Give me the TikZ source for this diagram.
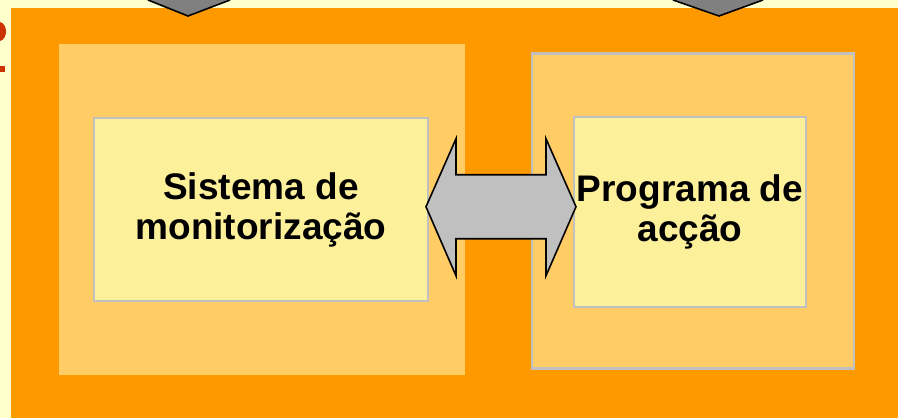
\documentclass[tikz,border=0pt]{standalone}
\usepackage{fontspec}
\setmainfont{Liberation Sans}
\usepackage{xcolor}
\usepackage{tikz}
\usetikzlibrary{calc}

\definecolor{paper}{HTML}{FFFFCC}
\definecolor{frameorange}{HTML}{FF9900}
\definecolor{paleorange}{HTML}{FFCC66}
\definecolor{paleyellow}{HTML}{FCF09A}
\definecolor{rimgray}{HTML}{C0C0C0}
\definecolor{arrowgray}{HTML}{808080}
\definecolor{fragred}{HTML}{CC3300}

\tikzset{
  outerbox/.style={fill=paleorange, inner sep=0pt, outer sep=0pt},
  innerbox/.style={fill=paleyellow, draw=rimgray, line width=2.5pt, inner sep=2pt, outer sep=0pt,
    align=center, font=\bfseries\fontsize{37}{40}\selectfont},
  linkarrow/.style={fill=rimgray, draw=black, line width=1.6pt, line join=miter},
  feedarrow/.style={fill=arrowgray},
}

\begin{document}
\begin{tikzpicture}[x=1pt, y=-1pt]
    \useasboundingbox (0,0) rectangle (898,418);
    \fill[paper] (0,0) rectangle (898,418);
    \fill[frameorange] (11,8) rectangle (898,418);

    % cut-off title fragments at the left edge
    \fill[fragred] (0,22) .. controls (8,24) and (8,39) .. (0,41) -- cycle;
    \fill[fragred] (0,66) rectangle (5,72);

    % incoming arrows, cut by the top edge
    \fill[feedarrow] (148,0) -- (188,16) -- (230,0) -- cycle;
    \draw[line width=1.6pt] (148,0) -- (188,16) -- (230,0);
    \fill[feedarrow] (673,0) -- (719,16) -- (763,0) -- cycle;
    \draw[line width=1.6pt] (673,0) -- (719,16) -- (763,0);

    % left block
    \node[outerbox, minimum width=406pt, minimum height=331pt] (leftblock) at (262,209.5) {};
    \node[innerbox, minimum width=334pt, minimum height=183pt] (monitor) at (261,209.5)
        {Sistema de\\monitorização};

    % right block
    \node[outerbox, draw=rimgray, line width=2.5pt, minimum width=322pt, minimum height=315pt]
        (rightblock) at (693,211) {};
    \node[innerbox, minimum width=232pt, minimum height=190pt] (accao) at (690,212)
        {Programa de\\acção};

    % two-way link
    \coordinate (mid) at ($(monitor.east)!0.5!(accao.west)$);
    \draw[linkarrow] (mid) ++(-75,-4) -- ++(30,-68) -- ++(0,36) -- ++(90,0) -- ++(0,-36)
        -- ++(30,68) -- ++(-30,69) -- ++(0,-37) -- ++(-90,0) -- ++(0,37) -- cycle;
\end{tikzpicture}
\end{document}
